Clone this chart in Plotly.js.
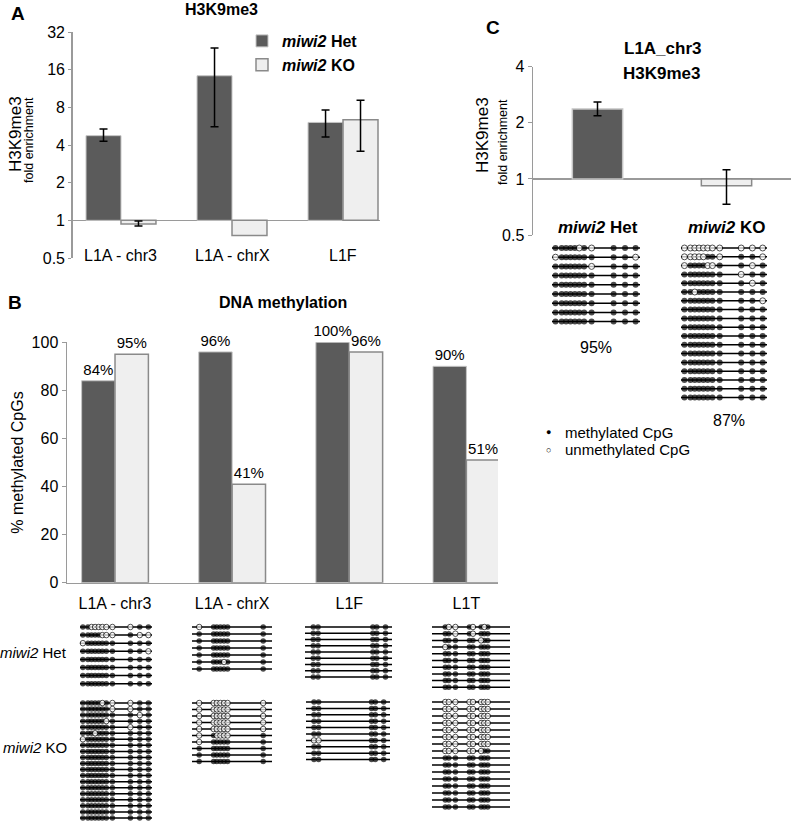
<!DOCTYPE html>
<html><head><meta charset="utf-8">
<script src="https://cdn.plot.ly/plotly-3.0.1.min.js"></script>
<style>html,body{margin:0;padding:0;background:#fff}</style>
</head><body><div id="chart" style="width:792px;height:825px"></div>
<script>
// ---------- Panel A: H3K9me3 ChIP (fold enrichment) ----------
const A_categories = ["L1A - chr3", "L1A - chrX", "L1F"];
const A_het    = [4.75, 14.3, 6.06];
const A_het_hi = [5.37, 23.8, 7.6];
const A_het_lo = [4.28, 5.6, 4.63];
const A_ko     = [0.936, 0.755, 6.37];
const A_ko_hi  = [0.99, null, 9.1];
const A_ko_lo  = [0.90, null, 3.56];
const A_ticks  = [0.5, 1, 2, 4, 8, 16, 32];

// ---------- Panel B: DNA methylation (%) ----------
const B_categories = ["L1A - chr3", "L1A - chrX", "L1F", "L1T"];
const B_het = [84, 96, 100, 90];
const B_ko  = [95, 41, 96, 51];
const B_ticks = [0, 20, 40, 60, 80, 100];

// ---------- Panel C: L1A_chr3 H3K9me3 ----------
const C_categories = ["miwi2 Het", "miwi2 KO"];
const C_values = [2.37, 0.92];
const C_hi = [2.59, 1.12];
const C_lo = [2.18, 0.73];
const C_ticks = [0.5, 1, 2, 4];
const C_percent = ["95%", "87%"];

// ---------- CpG positions (% along amplicon) ----------
const cpg_L1A_chr3 = [4, 11, 16, 21, 26, 31, 36.5, 45, 70, 83, 95];
const cpg_L1A_chrX = [9, 27, 31, 35.5, 40, 44.5, 89];
const cpg_L1F = [9.5, 15, 78, 82.5, 92.5];
const cpg_L1T = [17, 21.5, 30, 48, 52.5, 63, 67, 71.5];

// ---------- Bisulfite clones: 1 = methylated CpG, 0 = unmethylated ----------
const B_chr3_het = ["11000000011","11111000100","01111111111","11111111110","11111111111","11111111111","11111111111","11111111111"];
const B_chr3_ko = ["11111010011","11111110011","11111111101","11111101111","11111111011","11101111111","01111111111",
  "11111111111","11111111111","11111111111","11111111111","11111111111","11111111111","11111111111",
  "11111111111","11111111111","11111111111","11111111111","11111111111","11111111111"];
const B_chrX_het = ["0111111","1111111","1111111","1111111","1111111","1111011","1111111"];
const B_chrX_ko = ["0000000","0000000","0000000","0000000","0000000","0100001","0111111","1111111","1111111","1111111"];
const B_L1F_het = ["11111","11111","11111","11111","11111","11111","11111","11111","11111"];
const B_L1F_ko = ["11111","11111","11111","11111","11111","11111","00111","11111","11111","11111"];
const B_L1T_het = ["10010101","11010111","11111011","01111111","11111111","11111111","11111111","11111111","11111111","11111111"];
const B_L1T_ko = ["00000000","00000000","00000000","00000000","00000000","00000000","00000000","00000011",
  "11111111","11111111","11111111","11111111","11111111","11111111","11111111","11111111"];
const C_het_clones = ["11111010111","01111111110","11111110111","11111111111","11111111111","11111111111","11111111111","11111111111","11111111111"];
const C_ko_clones = ["00000000000","00000110110","01111001101","11111111011","11111111101","11011111111","11111111110",
  "11111111111","11111111111","11111111111","11111111111","11111111111","11111111111","11111111111",
  "11111111111","11111111111","11111111111","11111111111"];

// ---------- helpers ----------
const W = 792, H = 825;
const FONT = "Liberation Sans, Arial, Helvetica, sans-serif";
const X = p => p / W, Y = p => 1 - p / H;
const L2 = v => Math.log2(v);
const errUp = (hi, v) => hi.map((h, i) => h == null ? NaN : L2(h) - L2(v[i]));
const errDn = (lo, v) => lo.map((l, i) => l == null ? NaN : L2(v[i]) - L2(l));

const DARK = "#5b5b5b", DARK_EDGE = "#c4c4c4", LIGHT = "#efefef", LIGHT_EDGE = "#8a8a8a", AXIS = "#9a9a9a";

const traces = [];
// Panel A bars
traces.push({type:"bar", x:A_categories, y:A_het.map(L2), xaxis:"x", yaxis:"y", width:0.315, offset:-0.315,
  name:"<b><i>miwi2</i> Het</b>", marker:{color:DARK, line:{color:DARK_EDGE, width:1}},
  error_y:{type:"data", symmetric:false, array:errUp(A_het_hi, A_het), arrayminus:errDn(A_het_lo, A_het), color:"#000", thickness:1.5, width:4},
  hoverinfo:"skip"});
traces.push({type:"bar", x:A_categories, y:A_ko.map(L2), xaxis:"x", yaxis:"y", width:0.315, offset:0,
  name:"<b><i>miwi2</i> KO</b>", marker:{color:LIGHT, line:{color:LIGHT_EDGE, width:1.5}},
  error_y:{type:"data", symmetric:false, array:errUp(A_ko_hi, A_ko), arrayminus:errDn(A_ko_lo, A_ko), color:"#000", thickness:1.5, width:4},
  hoverinfo:"skip"});
// Panel B bars
traces.push({type:"bar", x:B_categories, y:B_het, xaxis:"x2", yaxis:"y2", width:0.285, offset:-0.285, showlegend:false,
  marker:{color:DARK, line:{color:DARK_EDGE, width:1}}, text:B_het.map(v => v + "%"), textposition:"outside",
  textfont:{size:15, color:"#000", family:FONT}, cliponaxis:false, constraintext:"none", hoverinfo:"skip"});
traces.push({type:"bar", x:B_categories, y:B_ko, xaxis:"x2", yaxis:"y2", width:0.285, offset:0, showlegend:false,
  marker:{color:LIGHT, line:{color:LIGHT_EDGE, width:1.5}}, text:B_ko.map(v => v + "%"), textposition:"outside",
  textfont:{size:15, color:"#000", family:FONT}, cliponaxis:false, constraintext:"none", hoverinfo:"skip"});
// Panel C bars
traces.push({type:"bar", x:C_categories, y:C_values.map(L2), xaxis:"x3", yaxis:"y3", width:0.39, offset:-0.195, showlegend:false,
  marker:{color:[DARK, LIGHT], line:{color:[DARK_EDGE, LIGHT_EDGE], width:1.5}},
  error_y:{type:"data", symmetric:false, array:errUp(C_hi, C_values), arrayminus:errDn(C_lo, C_values), color:"#000", thickness:1.5, width:4},
  hoverinfo:"skip"});

// ---------- Lollipop (bisulfite) diagrams on a pixel overlay axis ----------
const diagrams = [
  {clones:B_chr3_het, cpg:cpg_L1A_chr3, x0:80,  x1:152, y0:627, dy:8.1,  size:5.5},
  {clones:B_chr3_ko,  cpg:cpg_L1A_chr3, x0:80,  x1:152, y0:703, dy:6.05, size:5.5},
  {clones:B_chrX_het, cpg:cpg_L1A_chrX, x0:192, x1:272, y0:627, dy:7.0,  size:5.5},
  {clones:B_chrX_ko,  cpg:cpg_L1A_chrX, x0:192, x1:272, y0:703, dy:6.5,  size:5.5},
  {clones:B_L1F_het,  cpg:cpg_L1F,      x0:305, x1:392, y0:627, dy:6.25, size:5.5},
  {clones:B_L1F_ko,   cpg:cpg_L1F,      x0:306, x1:390, y0:702, dy:6.4,  size:5.5},
  {clones:B_L1T_het,  cpg:cpg_L1T,      x0:432, x1:510, y0:627, dy:6.7,  size:5.5},
  {clones:B_L1T_ko,   cpg:cpg_L1T,      x0:432, x1:510, y0:702, dy:7.0,  size:5.5},
  {clones:C_het_clones, cpg:cpg_L1A_chr3, x0:552, x1:640, y0:248, dy:9.2, size:6},
  {clones:C_ko_clones,  cpg:cpg_L1A_chr3, x0:681, x1:767, y0:248, dy:8.8, size:6}
];
const lx = [], ly = [], fx = [], fy = [], fs = [], ox = [], oy = [], os = [];
diagrams.forEach(d => {
  d.clones.forEach((row, r) => {
    const yy = d.y0 + r * d.dy;
    lx.push(d.x0, d.x1, null); ly.push(yy, yy, null);
    row.split("").forEach((c, k) => {
      const xx = d.x0 + d.cpg[k] / 100 * (d.x1 - d.x0);
      if (c === "1") { fx.push(xx); fy.push(yy); fs.push(d.size); }
      else { ox.push(xx); oy.push(yy); os.push(d.size); }
    });
  });
});
traces.push({type:"scatter", mode:"lines", x:lx, y:ly, xaxis:"x4", yaxis:"y4", showlegend:false,
  line:{color:"#000", width:1.5}, hoverinfo:"skip", connectgaps:false});
traces.push({type:"scatter", mode:"markers", x:fx, y:fy, xaxis:"x4", yaxis:"y4", showlegend:false,
  marker:{color:"#000", size:fs, line:{width:0}}, hoverinfo:"skip"});
traces.push({type:"scatter", mode:"markers", x:ox, y:oy, xaxis:"x4", yaxis:"y4", showlegend:false,
  marker:{color:"#fff", size:os, line:{color:"#000", width:1}}, hoverinfo:"skip"});

// ---------- annotations ----------
function ann(text, x, y, o) {
  return Object.assign({text, x:X(x), y:Y(y), xref:"paper", yref:"paper", showarrow:false,
    xanchor:"center", yanchor:"middle", font:{size:16, color:"#000", family:FONT}}, o || {});
}
const annotations = [
  ann("<b>A</b>", 18, 14, {font:{size:19, color:"#000", family:FONT}}),
  ann("<b>H3K9me3</b>", 222, 10, {font:{size:16, color:"#000", family:FONT}}),
  ann("H3K9me3", 16, 134, {textangle:-90, font:{size:17, color:"#000", family:FONT}}),
  ann("fold enrichment", 29, 140, {textangle:-90, font:{size:12.5, color:"#000", family:FONT}}),
  ann("<b>B</b>", 15, 302, {font:{size:19, color:"#000", family:FONT}}),
  ann("<b>DNA methylation</b>", 283, 302, {font:{size:16, color:"#000", family:FONT}}),
  ann("<b>C</b>", 493, 28, {font:{size:19, color:"#000", family:FONT}}),
  ann("<b>L1A_chr3</b>", 662, 48, {font:{size:17, color:"#000", family:FONT}}),
  ann("<b>H3K9me3</b>", 662, 73, {font:{size:17, color:"#000", family:FONT}}),
  ann("H3K9me3", 483, 135, {textangle:-90, font:{size:17, color:"#000", family:FONT}}),
  ann("fold enrichment", 503, 142, {textangle:-90, font:{size:12.5, color:"#000", family:FONT}}),
  ann(C_percent[0], 596, 347, {font:{size:16, color:"#000", family:FONT}}),
  ann(C_percent[1], 729, 421, {font:{size:16, color:"#000", family:FONT}}),
  ann("●", 548, 432, {font:{size:9, color:"#000", family:FONT}}),
  ann("○", 548, 450, {font:{size:9, color:"#000", family:FONT}}),
  ann("methylated CpG", 563, 432, {xanchor:"left", font:{size:15, color:"#000", family:FONT}}),
  ann("unmethylated CpG", 563, 450, {xanchor:"left", font:{size:15, color:"#000", family:FONT}}),
  ann("<i>miwi2</i> Het", 69, 652, {xanchor:"right", font:{size:15, color:"#000", family:FONT}}),
  ann("<i>miwi2</i> KO", 69, 747, {xanchor:"right", font:{size:15, color:"#000", family:FONT}})
];
// category labels of A and C sit at the level of the lowest tick
A_categories.forEach((c, i) => annotations.push({text:c, x:i, y:-0.93, xref:"x", yref:"y", showarrow:false,
  xanchor:"center", yanchor:"middle", font:{size:16, color:"#000", family:FONT}}));
C_categories.forEach((c, i) => annotations.push({text:"<b><i>" + c.split(" ")[0] + "</i> " + c.split(" ")[1] + "</b>",
  x:i, y:-0.875, xref:"x3", yref:"y3", showarrow:false, xanchor:"center", yanchor:"middle",
  font:{size:17, color:"#000", family:FONT}}));

const axCommon = {showgrid:false, fixedrange:true, tickfont:{size:16, color:"#000", family:FONT}};
const layout = {
  width:W, height:H, margin:{l:0, r:0, t:0, b:0},
  paper_bgcolor:"#fff", plot_bgcolor:"rgba(0,0,0,0)",
  font:{family:FONT, color:"#000"},
  barmode:"overlay",
  showlegend:true,
  legend:{x:X(242), y:Y(24), xanchor:"left", yanchor:"top", bgcolor:"rgba(0,0,0,0)",
    font:{size:16, color:"#000", family:FONT}, tracegroupgap:0, itemwidth:30},
  xaxis:Object.assign({}, axCommon, {domain:[X(72.7), X(380)], range:[-0.435, 2.333], anchor:"y",
    showticklabels:false, showline:false, ticks:"", zeroline:false}),
  yaxis:Object.assign({}, axCommon, {domain:[Y(258), Y(32)], range:[-1, 5], anchor:"x",
    tickvals:A_ticks.map(L2), ticktext:A_ticks.map(String), showline:true, linecolor:AXIS, linewidth:1.5,
    ticks:"outside", ticklen:3, tickcolor:AXIS, zeroline:true, zerolinecolor:AXIS, zerolinewidth:1.5}),
  xaxis2:Object.assign({}, axCommon, {domain:[X(67), X(498)], range:[-0.41, 3.27], anchor:"y2",
    showline:true, linecolor:AXIS, linewidth:1.5, ticks:"", zeroline:false, ticklabelstandoff:6}),
  yaxis2:Object.assign({}, axCommon, {domain:[Y(582.7), Y(342.3)], range:[0, 100], anchor:"x2",
    tickvals:B_ticks, showline:true, linecolor:AXIS, linewidth:1.5, ticks:"outside", ticklen:4, tickcolor:AXIS,
    zeroline:false, title:{text:"% methylated CpGs", font:{size:16, color:"#000", family:FONT}, standoff:4}}),
  xaxis3:Object.assign({}, axCommon, {domain:[X(533), X(791)], range:[-0.5, 1.5], anchor:"y3",
    showticklabels:false, showline:false, ticks:"", zeroline:false}),
  yaxis3:Object.assign({}, axCommon, {domain:[Y(235), Y(66.7)], range:[-1, 2], anchor:"x3",
    tickvals:C_ticks.map(L2), ticktext:C_ticks.map(String), showline:true, linecolor:AXIS, linewidth:1.5,
    ticks:"outside", ticklen:4, tickcolor:AXIS, zeroline:true, zerolinecolor:AXIS, zerolinewidth:1.5}),
  xaxis4:{domain:[0, 1], range:[0, W], anchor:"y4", visible:false, fixedrange:true},
  yaxis4:{domain:[0, 1], range:[H, 0], anchor:"x4", visible:false, fixedrange:true},
  annotations
};
Plotly.newPlot("chart", traces, layout, {staticPlot:true, displayModeBar:false});
</script></body></html>
